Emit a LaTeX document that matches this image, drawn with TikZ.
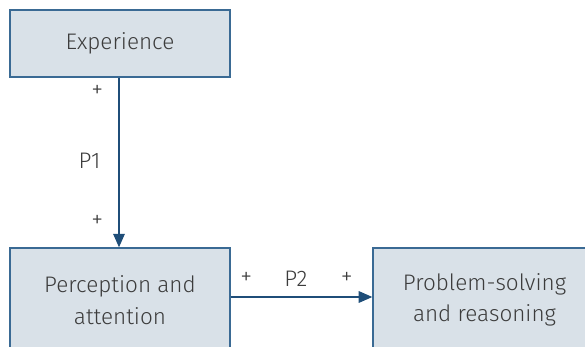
\documentclass[tikz,border=0pt]{standalone}
\usepackage{fontspec}
\setmainfont{Fira Sans}[UprightFont={* Light}]
\definecolor{bxfill}{HTML}{D9E1E8}
\definecolor{bxline}{HTML}{3A6A94}
\definecolor{arblue}{HTML}{1F4E79}
\definecolor{txgrey}{HTML}{3C3C3C}
\usetikzlibrary{arrows.meta}

\begin{document}
\begin{tikzpicture}[
  x=0.025cm,y=-0.025cm,
  box/.style={draw=bxline,fill=bxfill,line width=0.9pt,inner sep=0pt,align=center,
    text=txgrey,font=\fontsize{16}{22.5}\selectfont},
  lnk/.style={-{Triangle[length=3.4mm,width=2.9mm]},arblue,line width=0.9pt},
  sgn/.style={text=txgrey,font=\fontsize{17}{19}\selectfont,inner sep=0pt},
  plab/.style={text=txgrey,font=\fontsize{16}{19}\selectfont,inner sep=0pt}]
\useasboundingbox (0,0) rectangle (585,347);
\clip (0,0) rectangle (585,347);
% boxes
\node[box,minimum width=5.5cm,minimum height=1.675cm] (exp) at (120,43.5) {Experience};
\node[box,minimum width=5.5cm,minimum height=2.6cm] (perc) at (120,300) {Perception and\\ attention};
\node[box,minimum width=5.575cm,minimum height=2.6cm] (prob) at (484.5,300) {Problem-solving\\ and reasoning};
% links
\draw[lnk] (exp.south -| 119,0) -- node[pos=0.08,left=0.38cm,sgn] (s1) {+}
  node[pos=0.49,left=0.45cm,plab] (p1) {P1}
  node[pos=0.85,left=0.38cm,sgn] (s2) {+} (perc.north -| 119,0);
\draw[lnk] (perc.east |- 0,297) -- node[pos=0.11,above=0.3cm,sgn] (s3) {+}
  node[pos=0.46,above=0.25cm,plab] (p2) {P2}
  node[pos=0.82,above=0.3cm,sgn] (s4) {+} (prob.west |- 0,297);
\end{tikzpicture}
\end{document}
